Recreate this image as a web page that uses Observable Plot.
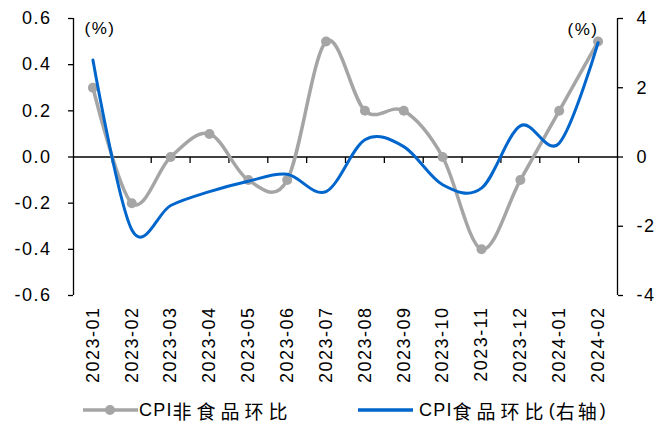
<!DOCTYPE html>
<html><head><meta charset="utf-8">
<script src="https://cdn.jsdelivr.net/npm/d3@7"></script>
<script src="https://cdn.jsdelivr.net/npm/@observablehq/plot@0.6"></script>
<style>
body{margin:0;background:#fff;}
#wrap{position:relative;width:669px;height:429px;overflow:hidden;}
#chart svg{display:block;}
.item{position:absolute;top:398px;height:24px;display:flex;align-items:center;font-family:"Liberation Sans","Noto Sans CJK SC";font-size:18px;letter-spacing:1.2px;color:#000;white-space:nowrap;}
.cjk{font-family:"Noto Sans CJK SC";font-size:19px;letter-spacing:5px;}
.sw{position:absolute;top:404px;}
</style></head>
<body><div id="wrap"><div id="chart"></div>
<svg class="sw" style="left:83px" width="56" height="12"><line x1="0" x2="55" y1="6" y2="6" stroke="#A5A5A5" stroke-width="3.5"/><circle cx="27" cy="6" r="5" fill="#A5A5A5"/></svg>
<div class="item" style="left:139px">CPI<span class="cjk">非食品环比</span></div>
<svg class="sw" style="left:358px" width="56" height="12"><line x1="0" x2="55" y1="6" y2="6" stroke="#0066CC" stroke-width="3.5"/></svg>
<div class="item" style="left:419px">CPI<span class="cjk">食品环比</span>(<span class="cjk" style="letter-spacing:3px">右轴</span>)</div>
</div>
<script>
const months = ["2023-01","2023-02","2023-03","2023-04","2023-05","2023-06","2023-07","2023-08","2023-09","2023-10","2023-11","2023-12","2024-01","2024-02"];
const nonFood = [0.3,-0.2,0.0,0.1,-0.1,-0.1,0.5,0.2,0.2,0.0,-0.4,-0.1,0.2,0.5];
const food = [2.8,-2.1,-1.4,-1.0,-0.7,-0.5,-1.0,0.5,0.3,-0.8,-0.9,0.9,0.4,3.3];
const leftTicks = [-0.6,-0.4,-0.2,0,0.2,0.4,0.6];
const rightTicks = [-4,-2,0,2,4];
const ratio = 0.6 / 4;

const grey = "#A5A5A5", blue = "#0066CC";
const nonFoodData = months.map((m, i) => ({x: i + 0.5, y: nonFood[i]}));
const foodData = months.map((m, i) => ({x: i + 0.5, y: food[i] * ratio}));
const centers = months.map((m, i) => i + 0.5);
const bounds = d3.range(1, months.length);
const tickSym = {draw(ctx) { ctx.moveTo(0, 0); ctx.lineTo(0, 6); }};

const chart = Plot.plot({
  width: 669, height: 395,
  marginLeft: 73, marginRight: 52, marginTop: 18, marginBottom: 100,
  style: {fontFamily: "Liberation Sans", fontSize: "18px", letterSpacing: "1.5px", color: "#000", background: "#fff"},
  x: {type: "linear", domain: [0, months.length]},
  y: {domain: [-0.6, 0.6]},
  marks: [
    Plot.ruleX([0, months.length], {stroke: "#000", strokeWidth: 1.3}),
    Plot.ruleY([0], {stroke: "#000", strokeWidth: 1.5}),
    Plot.dot(bounds, {x: d => d, y: () => 0, symbol: tickSym, stroke: "#000", strokeWidth: 1.3, fill: "none"}),
    Plot.axisY(leftTicks, {anchor: "left", label: null, tickSize: 5, tickPadding: 17, strokeWidth: 1.3, tickFormat: d => d.toFixed(1)}),
    Plot.axisY(rightTicks.map(d => d * ratio), {anchor: "right", label: null, tickSize: 5, tickPadding: 14, strokeWidth: 1.3, tickFormat: d => String(Math.round(d / ratio))}),
    Plot.axisX(centers, {anchor: "bottom", label: null, tickSize: 0, tickPadding: 11, tickRotate: -90, tickFormat: d => months[Math.round(d - 0.5)]}),
    Plot.line(nonFoodData, {x: "x", y: "y", stroke: grey, strokeWidth: 3.5, curve: "cardinal"}),
    Plot.dot(nonFoodData, {x: "x", y: "y", r: 5, fill: grey}),
    Plot.line(foodData, {x: "x", y: "y", stroke: blue, strokeWidth: 3, curve: "cardinal"}),
    Plot.text(["(%)"], {frameAnchor: "top-left", dx: 11, dy: 10, textAnchor: "start", lineAnchor: "middle", fontSize: 17, text: d => d}),
    Plot.text(["(%)"], {frameAnchor: "top-right", dx: -19, dy: 11, textAnchor: "end", lineAnchor: "middle", fontSize: 17, text: d => d})
  ]
});
document.getElementById("chart").appendChild(chart);
</script>
</body></html>
